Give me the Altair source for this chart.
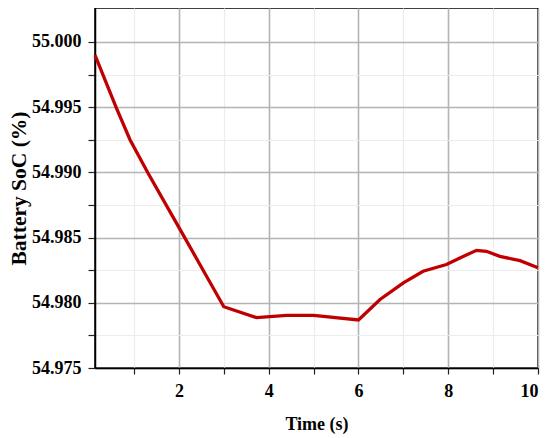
import altair as alt
import pandas as pd

time_s = [0.13, 0.61, 0.91, 1.31, 1.98, 2.47, 3.0, 3.73, 4.4, 5.0, 6.0, 6.48, 7.0, 7.44, 7.96, 8.26, 8.63, 8.85, 9.15, 9.6, 10.0]
soc = [54.99898, 54.9949, 54.9925, 54.98995, 54.9859, 54.98292, 54.9797, 54.97886, 54.97904, 54.97904,
       54.97868, 54.98025, 54.98153, 54.98242, 54.98293, 54.98344, 54.98402, 54.98395, 54.98356, 54.98323, 54.98268]

x_ticks = [1, 2, 3, 4, 5, 6, 7, 8, 9, 10]
y_ticks = [54.975, 54.9775, 54.98, 54.9825, 54.985, 54.9875, 54.99, 54.9925, 54.995, 54.9975, 55.0]

df = pd.DataFrame({"t": time_s, "soc": soc})

FONT = "Liberation Serif"

x_major = "datum.value % 2 == 0"
y_major = "abs(datum.value*200 - round(datum.value*200)) < 0.001"

chart = alt.Chart(df).mark_line(color="#c00000", strokeWidth=3.3).encode(
    x=alt.X("t:Q", scale=alt.Scale(domain=[0.13, 10], nice=False, zero=False),
            axis=alt.Axis(title="Time (s)", values=x_ticks,
                          labelExpr=f"{x_major} ? datum.label : ''",
                          gridColor={"condition": {"test": x_major, "value": "#b4b4b4"}, "value": "#ececec"},
                          gridWidth={"condition": {"test": x_major, "value": 1.6}, "value": 1.2},
                          tickSize=6, labelPadding=8, titlePadding=15)),
    y=alt.Y("soc:Q", scale=alt.Scale(domain=[54.975, 55.0026], nice=False, zero=False),
            axis=alt.Axis(title="Battery SoC (%)", values=y_ticks,
                          labelExpr=f"{y_major} ? format(datum.value, '.3f') : ''",
                          gridColor={"condition": {"test": y_major, "value": "#b4b4b4"}, "value": "#ececec"},
                          gridWidth={"condition": {"test": y_major, "value": 1.6}, "value": 1.2},
                          tickSize=7, labelPadding=7, titlePadding=1, titleFontSize=21.5)),
).properties(
    width=443, height=360,
    autosize=alt.AutoSizeParams(type="none"),
    padding={"left": 87, "top": 0, "right": 4, "bottom": 66},
).configure_view(
    stroke="black", strokeWidth=1.5
).configure_axis(
    domainColor="black", domainWidth=1.5, tickColor="#222222", tickWidth=1.2,
    labelFont=FONT, labelFontSize=18, labelFontWeight="bold", labelColor="black",
    titleFont=FONT, titleFontSize=18, titleFontWeight="bold", titleColor="black",
)

chart.save("out.html", embed_options={"renderer": "svg", "actions": False})
